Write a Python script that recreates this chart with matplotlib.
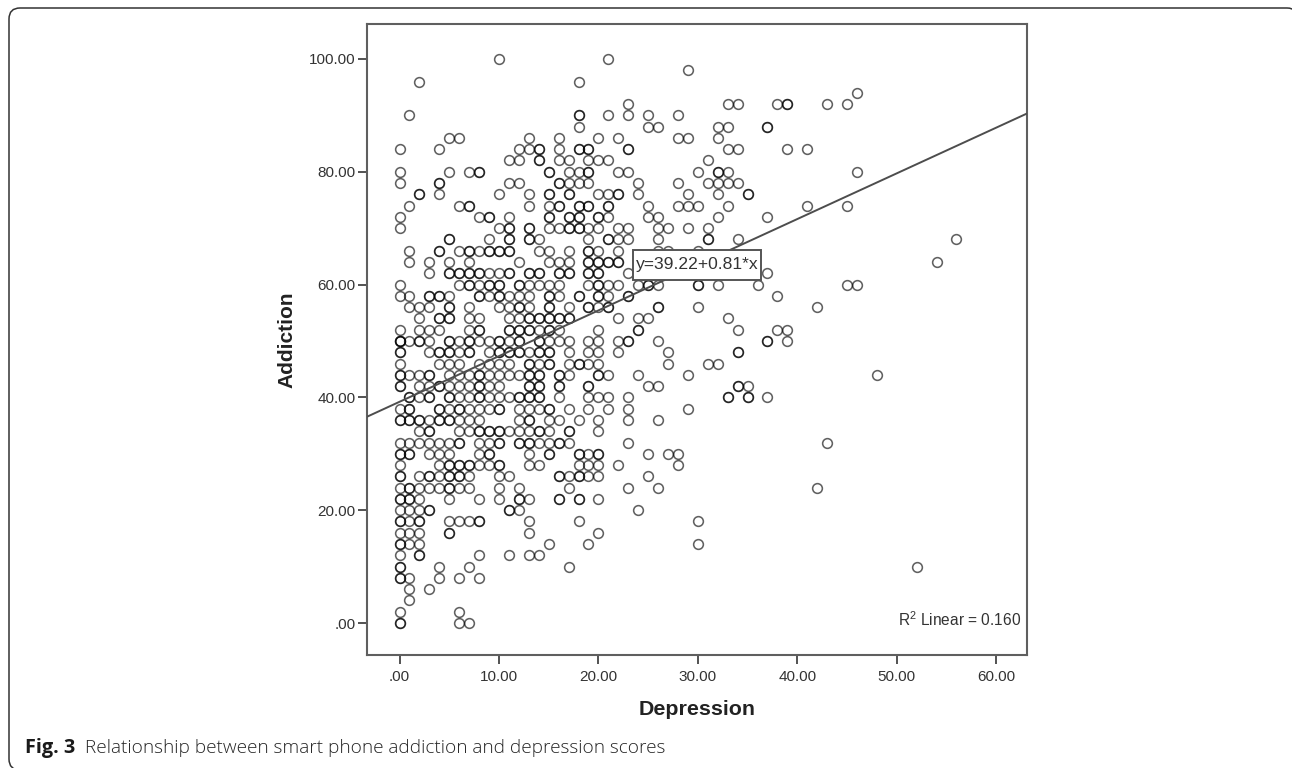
import numpy as np
import matplotlib
matplotlib.use('Agg')
import matplotlib.pyplot as plt
from matplotlib.patches import FancyBboxPatch, Rectangle

plt.rcParams['font.family'] = ['Liberation Sans', 'DejaVu Sans']
plt.rcParams['mathtext.fontset'] = 'custom'
plt.rcParams['mathtext.rm'] = 'Liberation Sans'
plt.rcParams['mathtext.default'] = 'regular'

# Addiction score for each row of circles
addiction_levels = [100, 98, 96, 94, 92, 90, 88, 86, 84, 82, 80, 78, 76, 74, 72, 70, 68,
                    66, 64, 62, 60, 58, 56, 54, 52, 50, 48, 46, 44, 42, 40, 38, 36, 34,
                    32, 30, 28, 26, 24, 22, 20, 18, 16, 14, 12, 10, 8, 6, 4, 2, 0]

# Depression scores in each row, repeated values are overlapping (darker) circles
depression_at_level = [
    [10, 21],
    [29],
    [2, 18],
    [46],
    [23, 33, 34, 38, 39, 39, 43, 45],
    [1, 18, 18, 21, 23, 25, 28],
    [18, 25, 26, 32, 33, 37, 37],
    [5, 6, 13, 16, 20, 22, 28, 29, 32],
    [0, 4, 12, 13, 14, 14, 16, 18, 18, 19, 19, 23, 23, 33, 34, 39, 41],
    [11, 12, 14, 14, 16, 17, 19, 20, 21, 31],
    [0, 5, 7, 8, 8, 15, 15, 17, 18, 19, 19, 22, 23, 30, 32, 32, 33, 46],
    [0, 4, 4, 11, 12, 16, 16, 17, 18, 19, 24, 28, 31, 32, 33, 34],
    [2, 2, 4, 10, 13, 15, 15, 17, 17, 20, 21, 22, 22, 24, 29, 32, 35, 35],
    [1, 6, 7, 7, 13, 15, 16, 16, 18, 18, 19, 19, 21, 21, 25, 28, 29, 30, 33, 41, 45],
    [0, 8, 9, 9, 11, 15, 15, 17, 17, 18, 18, 20, 20, 21, 25, 26, 32, 37],
    [0, 10, 11, 11, 13, 13, 15, 16, 17, 17, 18, 18, 19, 20, 22, 23, 26, 27, 29, 31],
    [5, 5, 9, 11, 11, 13, 13, 14, 19, 21, 21, 22, 23, 26, 31, 31, 34, 56],
    [1, 4, 4, 6, 7, 7, 8, 9, 9, 10, 10, 11, 11, 14, 15, 17, 19, 19, 20, 22, 26, 27, 30],
    [1, 3, 5, 7, 12, 15, 16, 17, 19, 19, 20, 20, 21, 21, 22, 22, 54],
    [3, 5, 5, 6, 6, 7, 7, 8, 8, 9, 10, 11, 11, 13, 13, 14, 14, 16, 16, 17, 17, 19, 19, 20, 20, 23, 37],
    [0, 6, 7, 7, 8, 9, 9, 10, 10, 12, 12, 13, 14, 15, 16, 19, 20, 20, 21, 22, 24, 25, 25, 26, 30, 30, 32, 36, 45, 46],
    [0, 1, 3, 3, 4, 4, 5, 8, 8, 9, 10, 10, 11, 12, 13, 15, 15, 16, 18, 18, 20, 20, 21, 23, 23, 38],
    [1, 2, 3, 5, 5, 7, 10, 11, 12, 12, 13, 15, 15, 17, 19, 19, 20, 21, 21, 26, 26, 30, 42],
    [2, 4, 4, 5, 5, 7, 8, 11, 12, 13, 13, 14, 14, 15, 15, 16, 16, 17, 17, 22, 24, 25, 33],
    [0, 2, 3, 4, 7, 8, 8, 11, 11, 12, 12, 13, 13, 14, 15, 15, 16, 20, 24, 24, 34, 38, 39],
    [0, 0, 0, 1, 2, 2, 3, 5, 5, 6, 7, 7, 8, 9, 10, 10, 11, 12, 12, 14, 14, 15, 16, 17, 19, 20, 22, 23, 23, 26, 37, 37, 39],
    [0, 0, 3, 4, 4, 5, 5, 6, 7, 7, 9, 10, 10, 11, 11, 12, 12, 13, 14, 14, 15, 15, 17, 19, 20, 22, 27, 34, 34],
    [0, 4, 5, 6, 8, 9, 10, 11, 13, 13, 14, 15, 15, 17, 18, 18, 19, 20, 27, 31, 32],
    [0, 0, 1, 2, 3, 3, 5, 6, 7, 8, 8, 9, 10, 11, 12, 13, 13, 14, 14, 16, 16, 17, 20, 20, 21, 24, 29, 48],
    [0, 0, 2, 3, 4, 4, 5, 6, 7, 8, 8, 9, 10, 13, 13, 14, 14, 16, 16, 19, 19, 25, 26, 34, 34, 35],
    [1, 1, 2, 3, 3, 5, 5, 6, 7, 8, 8, 9, 10, 11, 12, 12, 13, 13, 14, 14, 16, 19, 20, 21, 23, 33, 33, 35, 35, 37],
    [0, 1, 1, 4, 4, 5, 6, 6, 7, 8, 9, 10, 10, 12, 13, 14, 15, 15, 17, 19, 21, 23, 29],
    [0, 0, 1, 1, 2, 2, 3, 4, 4, 5, 5, 6, 7, 8, 12, 13, 13, 15, 16, 18, 20, 23, 26],
    [2, 3, 3, 6, 7, 8, 8, 9, 9, 10, 10, 11, 12, 13, 14, 14, 15, 17, 17, 20],
    [0, 1, 2, 3, 4, 5, 6, 6, 8, 9, 10, 10, 12, 12, 13, 13, 14, 15, 16, 16, 17, 23, 43],
    [0, 0, 1, 1, 3, 4, 5, 8, 9, 9, 13, 15, 15, 18, 18, 19, 20, 20, 25, 27, 28],
    [0, 4, 5, 5, 6, 6, 7, 7, 8, 9, 10, 10, 13, 14, 18, 19, 20, 22, 28],
    [0, 0, 2, 3, 3, 4, 5, 5, 6, 6, 7, 10, 11, 16, 16, 17, 18, 18, 19, 20, 25],
    [0, 1, 1, 2, 3, 4, 5, 5, 6, 7, 10, 12, 17, 23, 26, 42],
    [0, 0, 1, 1, 2, 5, 8, 10, 12, 12, 13, 16, 16, 18, 18, 20],
    [0, 1, 2, 3, 3, 11, 11, 12, 24],
    [0, 0, 1, 2, 2, 5, 6, 7, 8, 8, 13, 18, 30],
    [0, 1, 2, 5, 5, 13, 20],
    [0, 0, 1, 2, 15, 19, 30],
    [0, 2, 2, 8, 11, 13, 14],
    [0, 0, 4, 7, 17, 52],
    [0, 0, 1, 4, 6, 8],
    [1, 3],
    [1],
    [0, 6],
    [0, 0, 6, 7],
]

# Fit printed on the chart
fit_intercept = 39.22
fit_slope = 0.81
fit_ends = [-3.32, 63.1]

tick_values_x = [0, 10, 20, 30, 40, 50, 60]
tick_labels_x = ['.00', '10.00', '20.00', '30.00', '40.00', '50.00', '60.00']
tick_values_y = [0, 20, 40, 60, 80, 100]
tick_labels_y = ['.00', '20.00', '40.00', '60.00', '80.00', '100.00']

W, H = 1292, 768
fig = plt.figure(figsize=(W / 100, H / 100), dpi=100)

# Page layer in pixel coordinates: card outline and caption
page = fig.add_axes([0, 0, 1, 1])
page.set_xlim(0, W)
page.set_ylim(H, 0)
page.axis('off')
card = FancyBboxPatch((9, 8), 1289, 762, boxstyle='round,pad=0,rounding_size=11',
                      facecolor='white', edgecolor='#333333', linewidth=1.1, clip_on=True)
page.add_patch(card)
caption_y = 748
page.text(25, caption_y, 'Fig. 3', family='Open Sans', fontweight='bold',
          fontsize=14.3, color='#1a1a1a', va='center')
page.text(85, caption_y, 'Relationship between smart phone addiction and depression scores',
          family='Open Sans', fontsize=13.7, color='#262626', va='center', fontweight='light')

# Scatter panel
left, right, top, bottom = 366.5, 1027, 24, 655
ax = fig.add_axes([left / W, 1 - bottom / H, (right - left) / W, (bottom - top) / H])
ax.set_facecolor('white')

for level, scores in zip(addiction_levels, depression_at_level):
    ax.plot(scores, [level] * len(scores), linestyle='none', marker='o', markersize=7.0,
            markerfacecolor='none', markeredgecolor=(0, 0, 0, 0.62), markeredgewidth=1.15)

fit_x = np.array(fit_ends)
ax.plot(fit_x, fit_intercept + fit_slope * fit_x, color='#4d4d4d', linewidth=1.4, zorder=3)

ax.set_xlim(-3.32, 63.1)
ax.set_ylim(-5.67, 106.2)
ax.set_xticks(tick_values_x)
ax.set_xticklabels(tick_labels_x)
ax.set_yticks(tick_values_y)
ax.set_yticklabels(tick_labels_y)
ax.tick_params(length=6.5, width=1.3, color='#444444', labelsize=11, labelcolor='#333333')
ax.tick_params(axis='x', pad=4)
ax.tick_params(axis='y', pad=1.5)
for spine in ax.spines.values():
    spine.set_linewidth(1.5)
    spine.set_color('#5f5f5f')

ax.set_xlabel('Depression', fontsize=15.4, fontweight='bold', color='#222222', labelpad=11.5)
ax.set_ylabel('Addiction', fontsize=15, fontweight='bold', color='#222222', labelpad=8.6)

label_box = Rectangle((633, 250), 128, 29.5, transform=page.transData, facecolor='white',
                      edgecolor='#555555', linewidth=1.4, zorder=5)
ax.add_patch(label_box)
ax.text(697, 265, 'y=39.22+0.81*x', transform=page.transData, ha='center', va='center',
        fontsize=12.6, color='#333333', zorder=6)
ax.text(1021, 620, 'R$^{2}$ Linear = 0.160', transform=page.transData, ha='right', va='center',
        fontsize=11.2, color='#333333', zorder=6)

fig.savefig('out.png', dpi=100, facecolor='white')
